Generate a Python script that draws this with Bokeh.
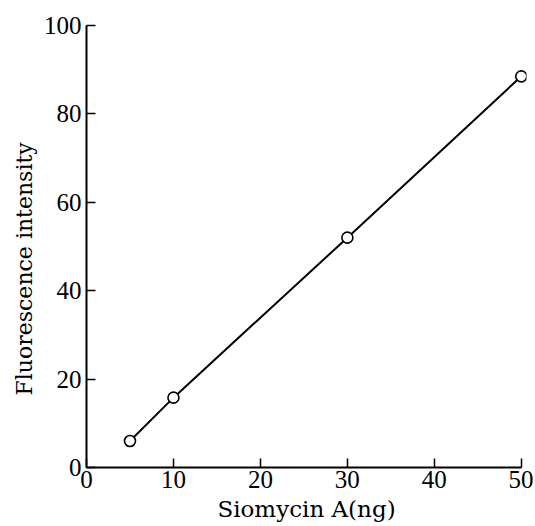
from bokeh.plotting import figure
from bokeh.models import Range1d, Title
from bokeh.embed import file_html
from bokeh.resources import INLINE

# data
siomycin_ng = [5, 10, 30, 50]
fluorescence = [6.0, 15.8, 52.0, 88.5]
x_ticks = [0, 10, 20, 30, 40, 50]
y_ticks = [0, 20, 40, 60, 80, 100]
x_label = "Siomycin A(ng)"
y_label = "Fluorescence intensity"

TICK_FONT = "Liberation Serif"
LABEL_FONT = "DejaVu Serif"

p = figure(width=533, height=524, output_backend="svg", toolbar_location=None,
           x_range=Range1d(0, 50.6), y_range=Range1d(0, 100),
           min_border_left=86, min_border_right=7, min_border_top=25, min_border_bottom=57)
p.grid.visible = False
p.outline_line_color = None
p.background_fill_color = "white"
p.border_fill_color = "white"

p.line(siomycin_ng, fluorescence, line_color="black", line_width=2)
p.scatter(siomycin_ng, fluorescence, marker="circle", size=11, fill_color="white",
          line_color="black", line_width=1.6)

for ax in (p.xaxis[0], p.yaxis[0]):
    ax.axis_line_width = 2
    ax.axis_line_color = "black"
    ax.major_tick_in = 9
    ax.major_tick_out = 0
    ax.major_tick_line_width = 1.5
    ax.minor_tick_line_color = None
    ax.major_label_text_font = TICK_FONT
    ax.major_label_text_font_size = "25px"
    ax.major_label_text_color = "black"
    ax.axis_label_text_font = LABEL_FONT
    ax.axis_label_text_font_size = "23px"
    ax.axis_label_text_font_style = "normal"
    ax.axis_label_text_color = "black"

p.xaxis.ticker = x_ticks
p.yaxis.ticker = y_ticks
p.xaxis.bounds = (0, 50)
p.yaxis.bounds = (0, 100)
p.xaxis.axis_label = x_label
p.xaxis.major_label_standoff = 3
p.yaxis.major_label_standoff = 5
p.xaxis.axis_label_standoff = 5

ytitle = Title(text=y_label, align="left", offset=72, text_font=LABEL_FONT,
               text_font_size="22px", text_font_style="normal", text_color="black",
               standoff=7)
p.add_layout(ytitle, "left")

open("out.html", "w").write(file_html(p, INLINE))
